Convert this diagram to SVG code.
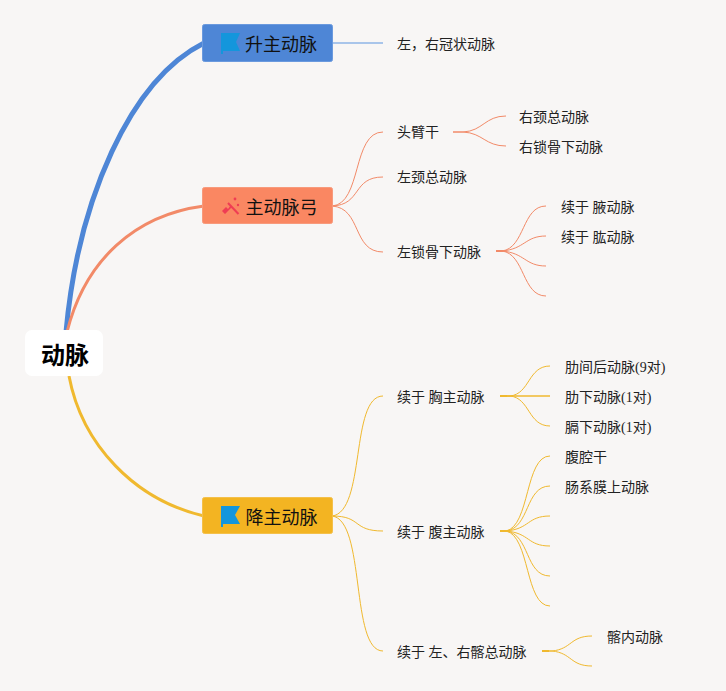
<svg xmlns="http://www.w3.org/2000/svg" width="726" height="691" viewBox="0 0 726 691">
<style>
text{font-family:"Liberation Serif","Noto Sans CJK SC",serif;fill:#222}
.t{font-size:14px}
.m{font-size:18px;fill:#111}
.c{fill:none}
.b{stroke:#4e86d6}
.o{stroke:#f28a68}
.y{stroke:#f0b92f}
.f{stroke-width:1}
</style>
<rect width="726" height="691" fill="#f8f6f5"/>
<g id="connectors">
<path class="c b" stroke-width="5" d="M66 332C78 200 130 80 204 43"/>
<path class="c o" stroke-width="3" d="M67 332C85 260 135 215 204 206"/>
<path class="c y" stroke-width="3" d="M69 376C82 445 135 500 204 516"/>
<path class="c" stroke="#8fb4e6" stroke-width="1.300" d="M332 43H383"/>
<g class="c o f">
<path d="M332 206C362 204 352 132 383 132"/>
<path d="M332 206C362 205 352 177 383 177"/>
<path d="M332 206C362 208 352 252 383 252"/>
<path d="M453 132H463C483 131 485 116 506 116"/>
<path d="M453 132H463C483 133 485 146 506 146"/>
<path d="M496 251H502C525 248 522 206 546 206"/>
<path d="M496 251H502C525 249 525 236 546 236"/>
<path d="M496 251H502C525 253 525 266 546 266"/>
<path d="M496 251H502C525 254 522 296 546 296"/>
</g>
<path class="c o" stroke-width="2" d="M496 251H503"/>
<g class="c y f">
<path d="M332 516C366 512 350 396 383 396"/>
<path d="M332 516C362 516 352 531 383 531"/>
<path d="M332 516C366 520 350 651 383 651"/>
<path d="M500 396H510C530 394 528 366 550 366"/>
<path d="M500 396H550" stroke-width="1.300"/>
<path d="M500 396H510C530 398 528 426 550 426"/>
<path d="M500 531H506C530 526 525 456 550 456"/>
<path d="M500 531H506C530 528 525 486 550 486"/>
<path d="M500 531H506C530 529 527 516 550 516"/>
<path d="M500 531H506C530 533 527 546 550 546"/>
<path d="M500 531H506C530 534 525 576 550 576"/>
<path d="M500 531H506C530 536 525 606 550 606"/>
<path d="M542 651H552C572 649 570 636 592 636"/>
<path d="M542 651H552C572 653 570 666 592 666"/>
</g>
<path class="c y" stroke-width="2" d="M500 396H507M500 531H507M542 651H549"/>
</g>
<g id="root"><rect x="25" y="330" width="78" height="46" rx="7" fill="#fff"/><text x="41" y="364" font-size="24" font-weight="700" style="fill:#000">动脉</text></g>
<g id="n1"><rect x="202.500" y="24.500" width="130" height="37" rx="2" fill="#4e86d6" stroke="#6b9ade"/><path d="M221 33H240L236 42L240 51H223V54H221Z" fill="#1496dc"/><text class="m" x="245" y="51">升主动脉</text></g>
<g id="n2"><rect x="202.500" y="187.500" width="130" height="36" rx="2" fill="#fa8762" stroke="#f89a7c"/><path d="M228 203L238.500 214" fill="none" stroke="#ef3d54" stroke-width="2"/><path d="M222 211L226 207L228 209L230.500 205.500L232 207L228 211L225 214Z" fill="#ef3d54"/><circle cx="235" cy="199" r="1.400" fill="#ef3d54"/><circle cx="238" cy="205" r="1.200" fill="#ef3d54"/><text class="m" x="245.500" y="214">主动脉弓</text></g>
<g id="n3"><rect x="202.500" y="497.500" width="130" height="36" rx="2" fill="#f3b422" stroke="#f4c04a"/><path d="M221 506H240L235 515L240 524H223V527H221Z" fill="#1496dc"/><text class="m" x="245.500" y="524">降主动脉</text></g>
<g id="l1"><text class="t" x="397" y="49">左，右冠状动脉</text></g>
<g id="l2"><text class="t" x="397" y="137">头臂干</text></g>
<g id="l3"><text class="t" x="519" y="122">右颈总动脉</text></g>
<g id="l4"><text class="t" x="519" y="152">右锁骨下动脉</text></g>
<g id="l5"><text class="t" x="397" y="182">左颈总动脉</text></g>
<g id="l6"><text class="t" x="397" y="257">左锁骨下动脉</text></g>
<g id="l7"><text class="t" x="561" y="212">续于 腋动脉</text></g>
<g id="l8"><text class="t" x="561" y="242">续于 肱动脉</text></g>
<g id="l9"><text class="t" x="397" y="402">续于 胸主动脉</text></g>
<g id="l10"><text class="t" x="565" y="372">肋间后动脉(9对)</text></g>
<g id="l11"><text class="t" x="565" y="402">肋下动脉(1对)</text></g>
<g id="l12"><text class="t" x="565" y="432">膈下动脉(1对)</text></g>
<g id="l13"><text class="t" x="397" y="537">续于 腹主动脉</text></g>
<g id="l14"><text class="t" x="565" y="462">腹腔干</text></g>
<g id="l15"><text class="t" x="565" y="492">肠系膜上动脉</text></g>
<g id="l16"><text class="t" x="397" y="657">续于 左、右髂总动脉</text></g>
<g id="l17"><text class="t" x="607" y="642">髂内动脉</text></g>
</svg>
